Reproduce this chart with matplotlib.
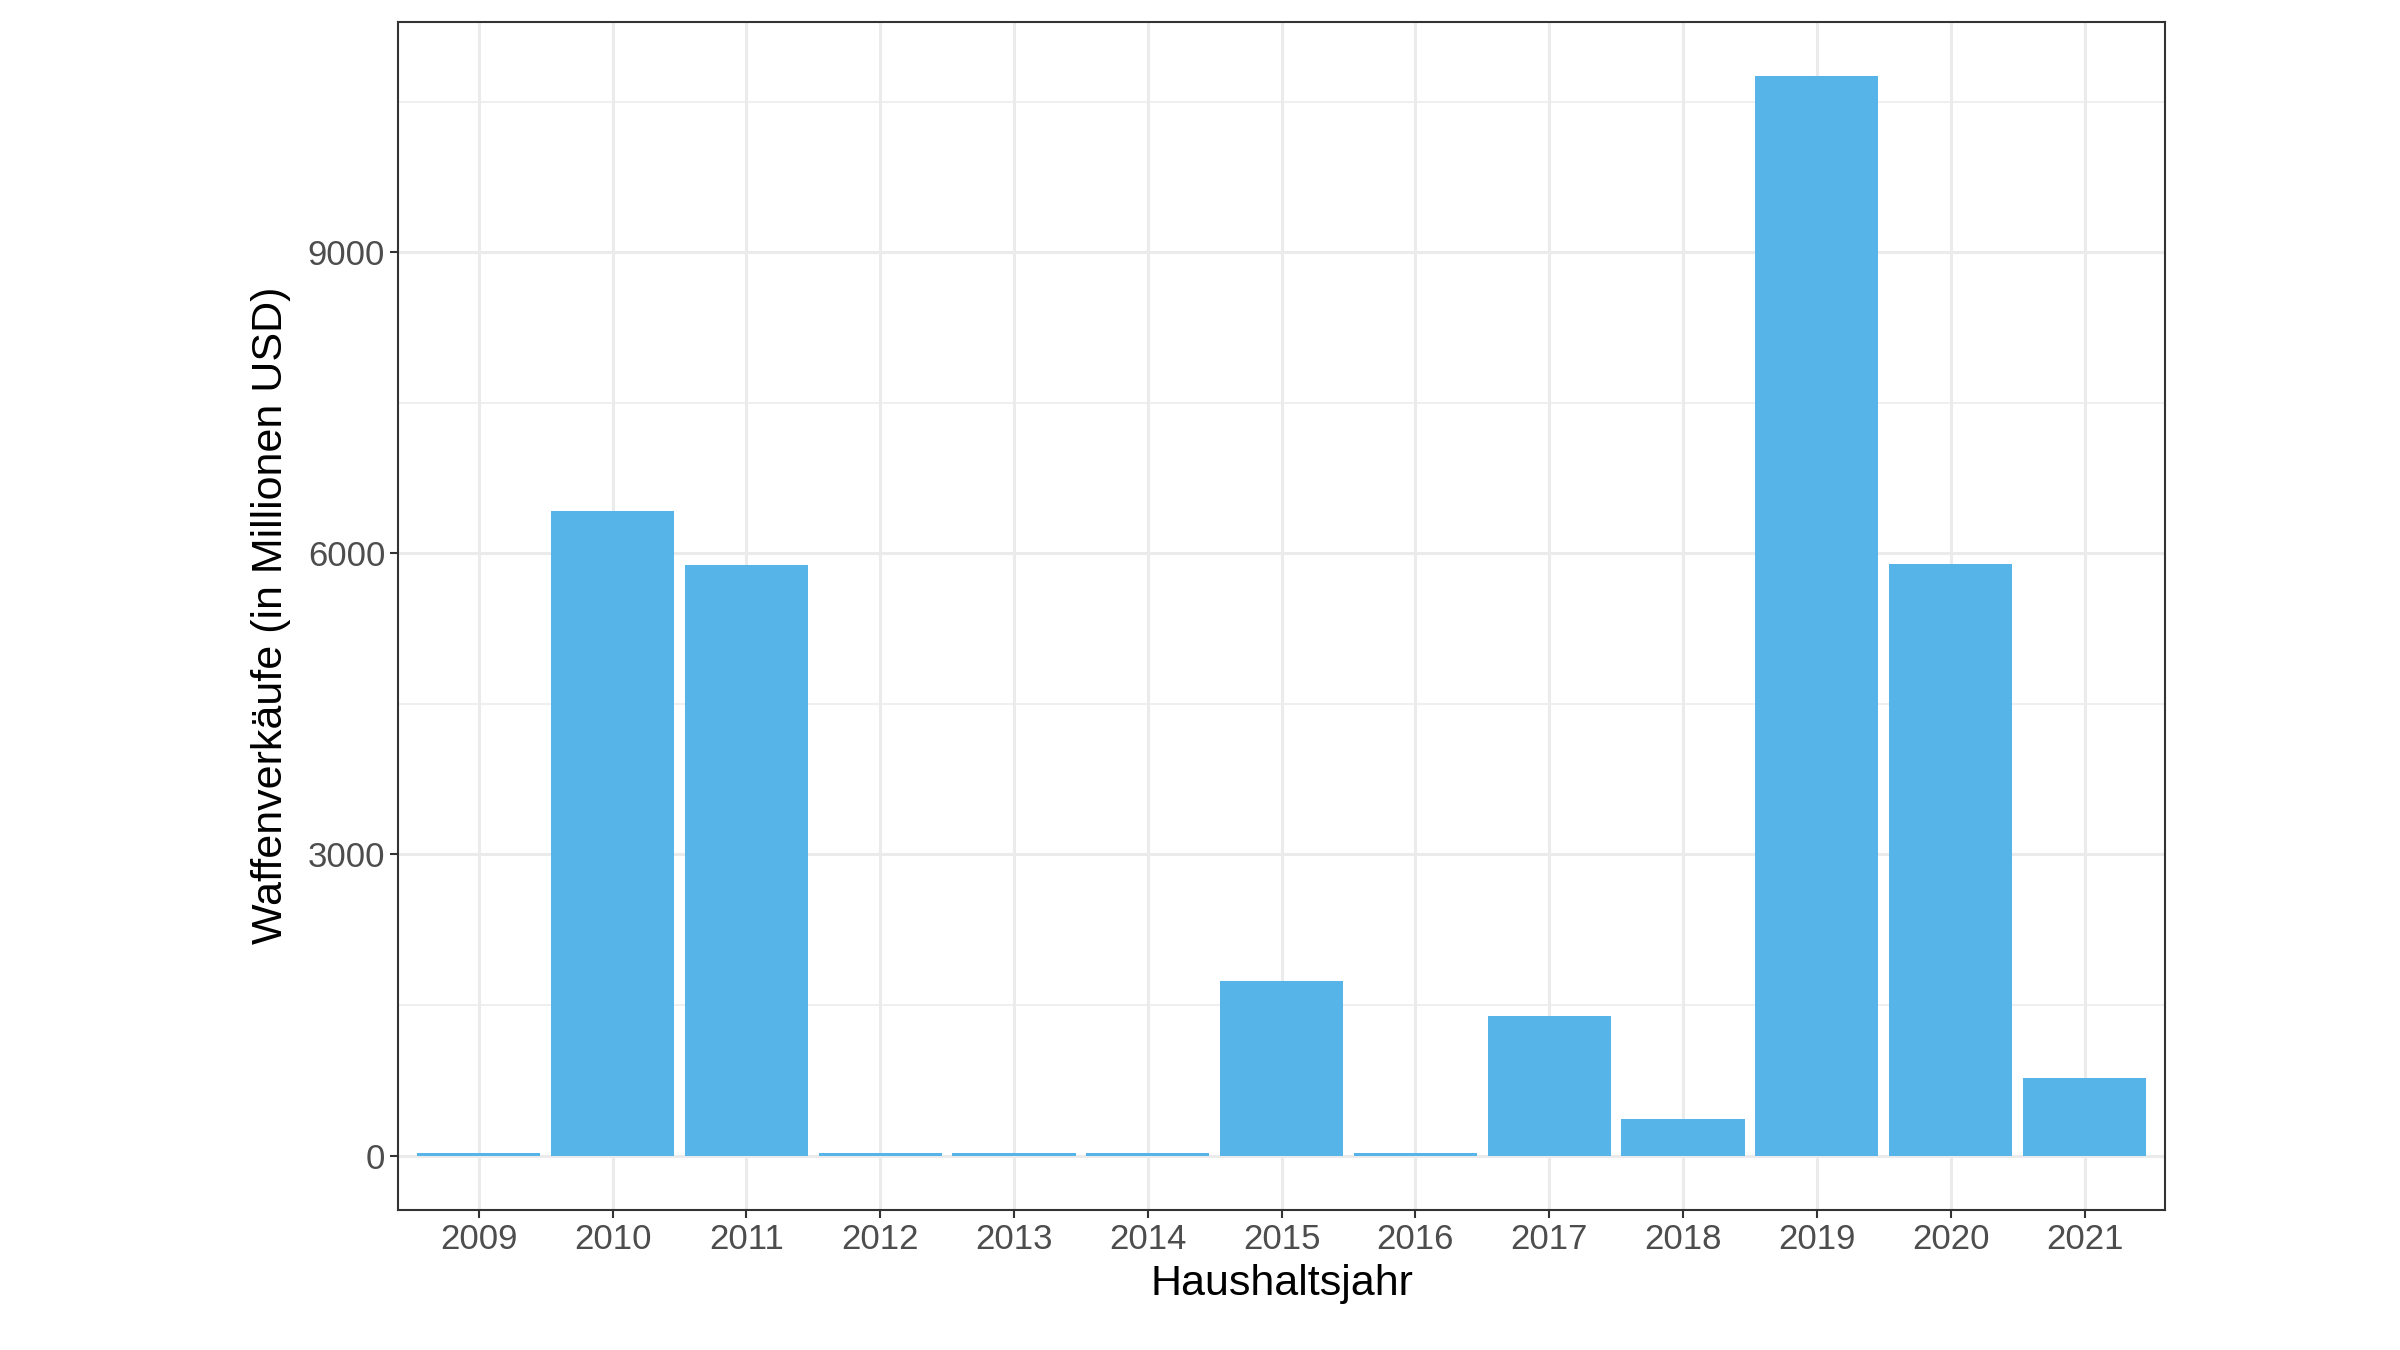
import numpy as np
import matplotlib.pyplot as plt

years = ["2009", "2010", "2011", "2012", "2013", "2014", "2015",
         "2016", "2017", "2018", "2019", "2020", "2021"]
sales = [30, 6424, 5879, 30, 30, 30, 1742, 30, 1394, 364, 10758, 5894, 773]

plt.rcParams['font.family'] = ['Liberation Sans', 'DejaVu Sans']

fig = plt.figure(figsize=(24, 13.5), dpi=100)
ax = fig.add_axes([0.166, 0.104, 0.736, 0.880])

x = np.arange(len(years))
ax.bar(x, sales, width=0.92, color='#56B4E9', zorder=3)

ax.set_xlim(-0.6, len(years) - 0.4)
ax.set_ylim(-538, 11296)
ax.set_xticks(x)
ax.set_xticklabels(years)
ax.set_yticks([0, 3000, 6000, 9000])
ax.set_yticks([1500, 4500, 7500, 10500], minor=True)

ax.grid(True, which='major', color='#EBEBEB', linewidth=2.2, zorder=0)
ax.grid(True, which='minor', axis='y', color='#EBEBEB', linewidth=1.1, zorder=0)
ax.tick_params(which='minor', length=0)
ax.tick_params(which='major', length=6, width=1.5, color='#333333',
               labelsize=25, labelcolor='#4D4D4D')
for s in ax.spines.values():
    s.set_color('#333333')
    s.set_linewidth(1.5)

ax.set_xlabel("Haushaltsjahr", fontsize=31, labelpad=6)
ax.set_ylabel("Waffenverkäufe (in Millionen USD)", fontsize=31, labelpad=12)

fig.savefig("out.png")
